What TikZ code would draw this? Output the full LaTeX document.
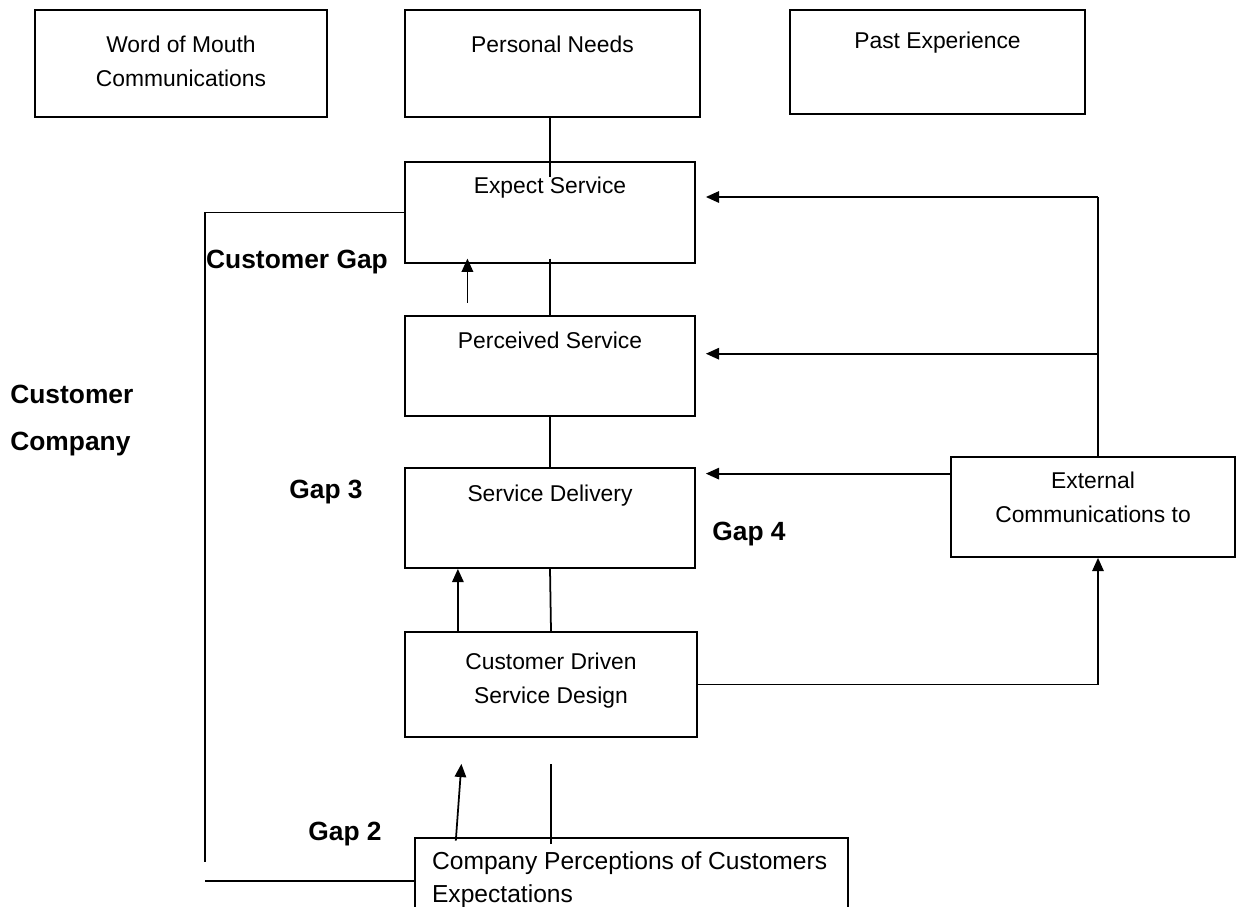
\documentclass[tikz,border=0pt]{standalone}
\usepackage{fontspec}
\setmainfont{Liberation Sans}
\usetikzlibrary{arrows.meta}

\tikzset{
  box/.style={draw, line width=1pt, minimum width=5.8cm, minimum height=2cm, inner sep=0pt},
  boxtext/.style={anchor=north, inner sep=0pt, align=center, font=\fontsize{13}{19.3}\selectfont},
  gaplabel/.style={inner sep=0pt, font=\fontsize{15}{26.7}\selectfont\bfseries},
  arr/.style={line width=1pt, -{Triangle[length=7.5pt,width=6.5pt]}},
  conn/.style={line width=1pt}
}

\begin{document}
\begin{tikzpicture}[x=0.02cm, y=-0.02cm]
  \useasboundingbox (0,0) rectangle (1237,906);

  % horni rada
  \node[box, minimum width=5.84cm, minimum height=2.14cm,
        label={[boxtext, yshift=-15.2pt]north:Word of Mouth\\Communications}] (wom) at (181,63.5) {};
  \node[box, minimum width=5.9cm, minimum height=2.14cm,
        label={[boxtext, yshift=-15.2pt]north:Personal Needs}] (pn) at (552.5,63.5) {};
  \node[box, minimum width=5.9cm, minimum height=2.08cm,
        label={[boxtext, yshift=-13pt]north:Past Experience}] (pe) at (937.5,62) {};

  % stredni sloupec
  \node[box, minimum height=2.02cm,
        label={[boxtext, yshift=-9pt]north:Expect Service}] (es) at (550,212.5) {};
  \node[box, label={[boxtext, yshift=-9.6pt]north:Perceived Service}] (ps) at (550,366) {};
  \node[box, label={[boxtext, yshift=-10.1pt]north:Service Delivery}] (sd) at (550,518) {};
  \node[box, minimum width=5.84cm, minimum height=2.1cm,
        label={[boxtext, yshift=-12.4pt]north:Customer Driven\\Service Design}] (cd) at (551,684.5) {};
  \node[box, minimum width=8.66cm, minimum height=2.44cm,
        label={[boxtext, anchor=north west, align=left, xshift=10pt, yshift=-8.3pt,
                font=\fontsize{14}{18.6}\selectfont]north west:Company Perceptions of Customers\\Expectations}] (cp) at (631.5,899) {};

  % pravy box
  \node[box, minimum width=5.68cm,
        label={[boxtext, yshift=-9pt]north:External\\Communications to}] (ec) at (1093,507) {};

  % popisky mezer
  \node[gaplabel] (cgap) at (297,262) {Customer Gap};
  \node[gaplabel, anchor=west, align=left] (cc) at (10,420.5) {Customer\\Company};
  \node[gaplabel] (gap3) at (326,492) {Gap 3};
  \node[gaplabel] (gap4) at (749,534) {Gap 4};
  \node[gaplabel] (gap2) at (345,834) {Gap 2};

  % svisle spojnice
  \draw[conn] (es.north |- pn.south) -- ([yshift=-9pt]es.north);
  \draw[conn] ([yshift=3pt]es.south) -- (ps.north);
  \draw[arr] ([xshift=-47pt,yshift=7pt]ps.north) -- ([xshift=-47pt,yshift=3pt]es.south);
  \draw[conn] (ps.south) -- ([yshift=-1pt]sd.north);
  \draw[conn] (cd.north) -- (sd.south);
  \draw[arr] ([xshift=-53pt]cd.north) -- ([xshift=-53pt]cd.north |- sd.south);
  \draw[arr] ([xshift=-100pt,yshift=-2pt]cp.north) -- ([xshift=-51pt,yshift=-14.8pt]cd.south);
  \draw[conn] ([yshift=-4pt]cp.north -| cd.south) -- ([yshift=-14.8pt]cd.south);

  % prava strana
  \coordinate (rtop) at (1098,197);
  \draw[conn] (rtop) -- (rtop |- ec.north);
  \draw[arr, shorten >=5.7pt] (rtop) -- (rtop -| es.east);
  \draw[arr, shorten >=5.7pt] ([yshift=7pt]ps.east -| rtop) -- ([yshift=7pt]ps.east);
  \draw[arr, shorten >=5.7pt] ([yshift=19pt]ec.west) -- ([yshift=19pt]ec.west -| sd.east);
  \draw[arr] (cd.east) -- (cd.east -| rtop) -- (rtop |- ec.south);

  % leva strana
  \coordinate (lft) at (205,862);
  \coordinate (lbot) at (205,881);
  \draw[conn] (es.west) -- (es.west -| lft) -- (lft);
  \draw[conn] (lbot) -- (lbot -| cp.west);
\end{tikzpicture}
\end{document}
